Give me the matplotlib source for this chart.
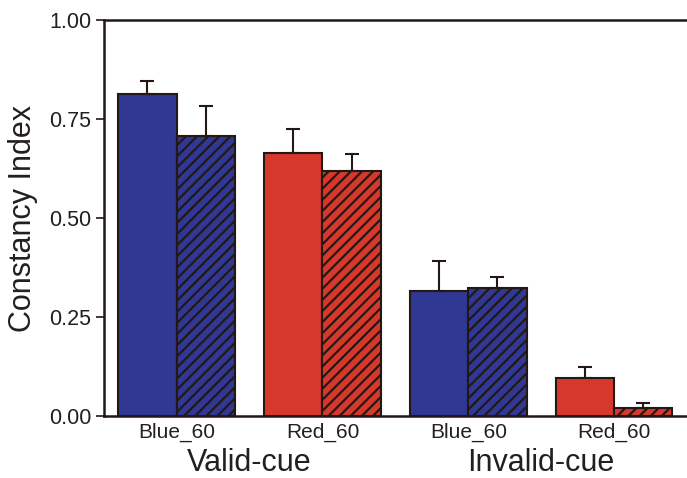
import matplotlib
matplotlib.use("Agg")
import matplotlib.pyplot as plt
import numpy as np

plt.rcParams['font.family'] = ['Liberation Sans', 'DejaVu Sans']
plt.rcParams['hatch.linewidth'] = 1.6
plt.rcParams['hatch.color'] = '#231815'

groups = ["Valid-cue", "Invalid-cue"]
categories = ["Blue_60", "Red_60", "Blue_60", "Red_60"]
solid_vals = [0.813, 0.664, 0.316, 0.096]
solid_err = [0.033, 0.061, 0.075, 0.028]
hatched_vals = [0.707, 0.619, 0.323, 0.020]
hatched_err = [0.076, 0.043, 0.028, 0.013]
bar_colors = ["#2f3893", "#d6392b", "#2f3893", "#d6392b"]
yticks = [0.00, 0.25, 0.50, 0.75, 1.00]

edge = '#231815'
fig = plt.figure(figsize=(6.87, 4.78), dpi=100)
ax = fig.add_axes([0.151, 0.1297, 0.849, 0.8283])

x = np.arange(len(categories))
w = 0.4
ax.bar(x - w/2, solid_vals, width=w, color=bar_colors, edgecolor=edge, linewidth=1.5,
       yerr=[np.zeros(4), solid_err], error_kw=dict(ecolor=edge, elinewidth=1.5, capsize=5, capthick=1.5), zorder=2)
ax.bar(x + w/2, hatched_vals, width=w, color=bar_colors, edgecolor=edge, linewidth=1.5, hatch='///',
       yerr=[np.zeros(4), hatched_err], error_kw=dict(ecolor=edge, elinewidth=1.5, capsize=5, capthick=1.5), zorder=2)

ax.set_xlim(-0.5, 3.5)
ax.set_ylim(0, 1.0)
ax.set_yticks(yticks)
ax.set_yticklabels([f"{v:.2f}" for v in yticks], fontsize=15.5, color='#231f20')
ax.set_xticks(x)
ax.set_xticklabels(categories, fontsize=15, color='#231f20')
ax.tick_params(axis='x', length=0, pad=5)
ax.tick_params(axis='y', length=6, width=1.2, color=edge, direction='out', pad=3)
ax.spines['right'].set_visible(False)
for s in ['top', 'left', 'bottom']:
    ax.spines[s].set_color(edge)
    ax.spines[s].set_linewidth(1.8)

ax.set_ylabel("Constancy Index", fontsize=22, labelpad=8, color='#231f20')
for gi, g in enumerate(groups):
    ax.text(2*gi + 0.5, -0.14, g, transform=ax.transData, ha='center', va='baseline',
            fontsize=22, color='#231f20')

fig.savefig("out.png", dpi=100)
